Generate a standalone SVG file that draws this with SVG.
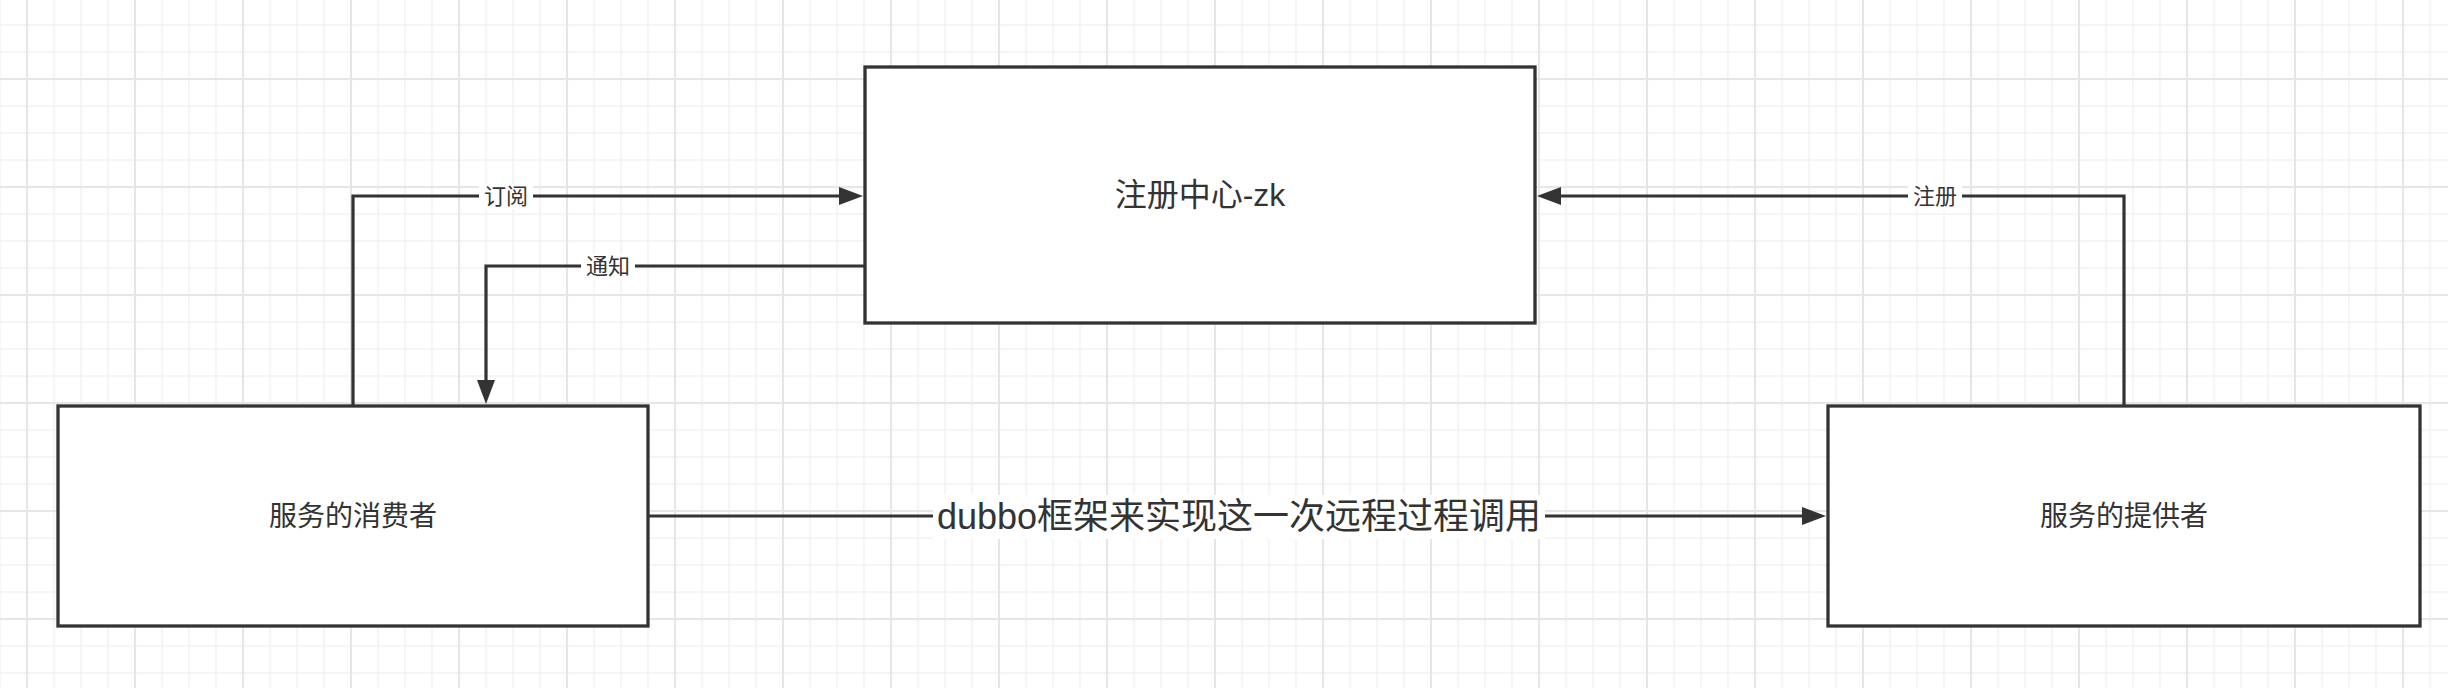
<svg xmlns="http://www.w3.org/2000/svg" width="2448" height="688" viewBox="0 0 2448 688">
<style>
.node{fill:#ffffff;stroke:#333333;stroke-width:3.3}
.edge{fill:none;stroke:#333333;stroke-width:3.2}
.t{font-family:"Liberation Sans","Noto Sans CJK SC",sans-serif;fill:#333333;text-anchor:middle;dominant-baseline:central}
.lbg{fill:#ffffff}
</style>
<defs>
<pattern id="minor" patternUnits="userSpaceOnUse" x="-0.75" y="24.25" width="27" height="27">
<rect x="0" y="0" width="1.5" height="27" fill="#f1f1f1"/>
<rect x="0" y="0" width="27" height="1.5" fill="#f1f1f1"/>
</pattern>
<pattern id="major" patternUnits="userSpaceOnUse" x="26" y="78" width="108" height="108">
<rect x="0" y="0" width="2" height="108" fill="#e6e6e6"/>
<rect x="0" y="0" width="108" height="2" fill="#e6e6e6"/>
</pattern>
<marker id="arr" markerUnits="userSpaceOnUse" markerWidth="24" markerHeight="18" refX="14" refY="9" orient="auto">
<path d="M0,0 L24,9 L0,18 Z" fill="#333333"/>
</marker>
</defs>
<rect width="2448" height="688" fill="#ffffff"/>
<rect width="2448" height="688" fill="url(#minor)"/>
<rect width="2448" height="688" fill="url(#major)"/>

<g id="connectors">
<g id="e-subscribe">
<path class="edge" d="M353,406 V196 H853" marker-end="url(#arr)"/>
<rect class="lbg" x="479" y="184" width="54" height="26"/>
<text class="t" x="506" y="196" font-size="22">订阅</text>
</g>
<g id="e-notify">
<path class="edge" d="M865,266 H486 V394" marker-end="url(#arr)"/>
<rect class="lbg" x="581" y="254" width="54" height="26"/>
<text class="t" x="608" y="266" font-size="22">通知</text>
</g>
<g id="e-register">
<path class="edge" d="M2124,406 V196 H1547" marker-end="url(#arr)"/>
<rect class="lbg" x="1908" y="184" width="54" height="26"/>
<text class="t" x="1935" y="196" font-size="22">注册</text>
</g>
<g id="e-rpc">
<path class="edge" d="M648,516 H1816" marker-end="url(#arr)"/>
<rect class="lbg" x="933" y="495" width="612" height="44"/>
<text class="t" x="1239" y="516" font-size="36">dubbo框架来实现这一次远程过程调用</text>
</g>
</g>

<g id="registry">
<rect class="node" x="865" y="67" width="670" height="256"/>
<text class="t" x="1200" y="195" font-size="32">注册中心-zk</text>
</g>
<g id="consumer">
<rect class="node" x="58" y="406" width="590" height="220"/>
<text class="t" x="353" y="516" font-size="28">服务的消费者</text>
</g>
<g id="provider">
<rect class="node" x="1828" y="406" width="592" height="220"/>
<text class="t" x="2124" y="516" font-size="28">服务的提供者</text>
</g>
</svg>
